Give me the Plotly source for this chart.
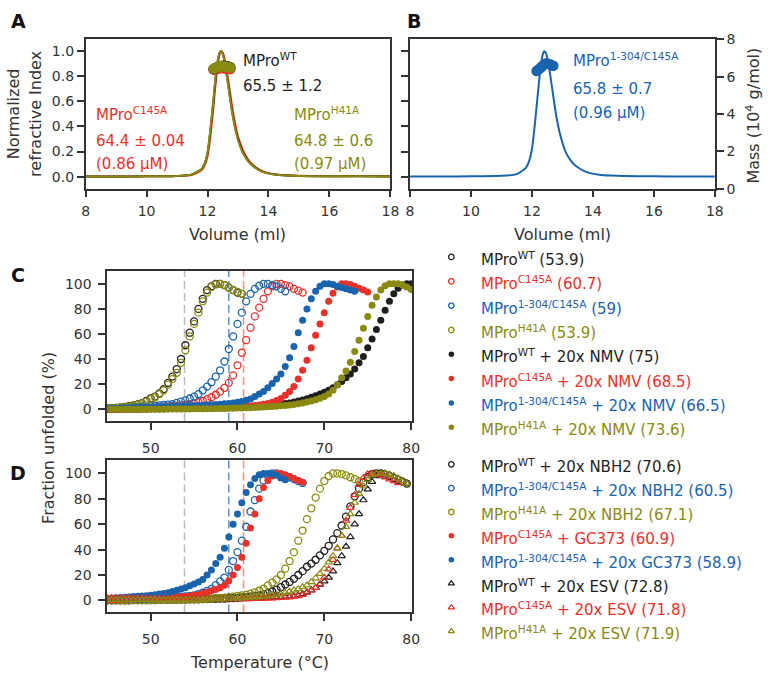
import plotly.graph_objects as go

W, H = 773, 680
FONT = "DejaVu Sans, Liberation Sans, Arial, sans-serif"
BLACK = "#1e1e1e"
RED = "#e8312a"
BLUE = "#1a63ad"
OLIVE = "#8a8a12"
AX = "#333333"

# ---------------- Panel A / B : SEC-MALS ----------------
volume = [8, 9, 10, 11, 11.5, 11.8, 11.9, 12.0, 12.1, 12.2, 12.25, 12.3, 12.35, 12.4, 12.45,
          12.5, 12.55, 12.6, 12.7, 12.8, 12.9, 13.0, 13.1, 13.2, 13.35, 13.5, 13.7, 13.9,
          14.2, 14.6, 15, 16, 17, 18]
ri_wt = [0.0, 0.0, 0.002, 0.005, 0.018, 0.06, 0.1, 0.19, 0.38, 0.62, 0.75, 0.86, 0.94, 0.99, 1.0,
         0.98, 0.93, 0.86, 0.70, 0.53, 0.40, 0.30, 0.23, 0.175, 0.12, 0.085, 0.052, 0.032,
         0.017, 0.009, 0.005, 0.002, 0.002, 0.0]
ri_c145a = [0.0, 0.0, 0.002, 0.004, 0.015, 0.05, 0.085, 0.16, 0.33, 0.57, 0.70, 0.82, 0.92, 0.98, 1.0,
            0.99, 0.95, 0.89, 0.74, 0.57, 0.43, 0.32, 0.25, 0.19, 0.13, 0.09, 0.056, 0.034,
            0.018, 0.010, 0.006, 0.003, 0.004, 0.002]
ri_h41a = [0.0, 0.0, 0.002, 0.005, 0.018, 0.06, 0.1, 0.19, 0.39, 0.63, 0.76, 0.87, 0.95, 0.99, 1.0,
           0.98, 0.93, 0.86, 0.69, 0.52, 0.39, 0.29, 0.22, 0.17, 0.115, 0.082, 0.05, 0.03,
           0.016, 0.008, 0.005, 0.002, 0.003, 0.001]
ri_1304 = [0.0, 0.0, 0.002, 0.006, 0.02, 0.07, 0.12, 0.22, 0.43, 0.68, 0.80, 0.90, 0.97, 1.0, 0.99,
           0.95, 0.89, 0.81, 0.64, 0.48, 0.36, 0.27, 0.20, 0.155, 0.105, 0.075, 0.046, 0.028,
           0.015, 0.008, 0.004, 0.002, 0.001, 0.0]

mass_vol = [12.2, 12.25, 12.3, 12.35, 12.4, 12.45, 12.5, 12.55, 12.6, 12.65, 12.7, 12.75]
mass_wt = [6.40, 6.45, 6.50, 6.52, 6.55, 6.57, 6.58, 6.58, 6.56, 6.55, 6.53, 6.50]
mass_c145a = [6.38, 6.40, 6.42, 6.44, 6.45, 6.46, 6.46, 6.45, 6.44, 6.43, 6.42, 6.40]
mass_h41a = [6.42, 6.46, 6.50, 6.53, 6.55, 6.56, 6.56, 6.55, 6.53, 6.52, 6.50, 6.48]
mass_vol_b = [12.15, 12.2, 12.25, 12.3, 12.35, 12.4, 12.45, 12.5, 12.55, 12.6, 12.65, 12.7]
mass_1304 = [6.30, 6.36, 6.42, 6.50, 6.58, 6.65, 6.70, 6.70, 6.68, 6.65, 6.60, 6.58]

# ---------------- Panel C / D : thermal unfolding ----------------
temps = [45.0, 45.5, 46.0, 46.5, 47.0, 47.5, 48.0, 48.5, 49.0, 49.5,
         50.0, 50.5, 51.0, 51.5, 52.0, 52.5, 53.0, 53.5, 54.0, 54.5,
         55.0, 55.5, 56.0, 56.5, 57.0, 57.5, 58.0, 58.5, 59.0, 59.5,
         60.0, 60.5, 61.0, 61.5, 62.0, 62.5, 63.0, 63.5, 64.0, 64.5,
         65.0, 65.5, 66.0, 66.5, 67.0, 67.5, 68.0, 68.5, 69.0, 69.5,
         70.0, 70.5, 71.0, 71.5, 72.0, 72.5, 73.0, 73.5, 74.0, 74.5,
         75.0, 75.5, 76.0, 76.5, 77.0, 77.5, 78.0, 78.5, 79.0, 79.5, 80.0]

c_wt = [0.5, 0.8, 1, 1.3, 1.8, 2.3, 3, 3.8, 4.8, 6.5,
        8.5, 10, 12.5, 16, 21, 26, 32, 40, 51, 61,
        70, 80, 88, 95, 98, 100, 100, 99, 97, 95,
        93, 92]
c_c145a = [0, 0, 0.2, 0.3, 0.4, 0.5, 0.6, 0.7, 0.8, 0.9,
           1, 1.2, 1.5, 1.8, 2, 2.3, 2.6, 3, 3.5, 4,
           4.5, 5.5, 6.5, 8, 9.5, 11.5, 14, 17, 21, 27,
           35, 45, 55, 65, 74, 81, 88, 94, 98, 100,
           100, 99, 98, 96, 94.5, 93]
c_1304 = [0.5, 0.5, 0.6, 0.8, 1, 1.2, 1.5, 1.7, 2, 2.2,
          2.5, 2.8, 3, 3.3, 3.6, 4, 5, 6, 7, 8.5,
          10, 12, 15, 18, 21.5, 26, 31, 38, 48, 58,
          68, 77, 86, 92, 96, 98.5, 100, 100, 99, 98,
          96, 94]
c_h41a = [0.5, 0.7, 0.9, 1.2, 1.6, 2, 2.7, 3.5, 4.5, 6,
          8, 9.5, 12, 15, 19.5, 24, 29, 37, 47, 58,
          68, 77, 86, 93, 97.5, 99.5, 100, 99, 97, 95,
          93.5, 92]
c_wt_nmv = [0, 0, 0, 0, 0, 0, 0, 0, 0.2, 0.2,
            0.3, 0.3, 0.3, 0.4, 0.4, 0.5, 0.5, 0.5, 0.6, 0.6,
            0.7, 0.7, 0.8, 0.8, 0.9, 1, 1, 1.1, 1.2, 1.3,
            1.4, 1.5, 1.7, 1.9, 2.1, 2.3, 2.6, 2.9, 3.2, 3.6,
            4, 4.5, 5, 5.7, 6.5, 7.3, 8.3, 9.4, 10.6, 12,
            13.5, 15, 17, 19.5, 22, 25, 28, 32, 37, 42,
            49, 56, 63.5, 71, 79, 86, 92, 96.5, 99, 100, 100]
c_c145a_nmv = [0, 0, 0, 0, 0, 0, 0, 0, 0, 0,
               0.2, 0.2, 0.2, 0.3, 0.3, 0.3, 0.4, 0.4, 0.5, 0.5,
               0.5, 0.6, 0.7, 0.8, 0.9, 1, 1.1, 1.2, 1.4, 1.6,
               1.8, 2, 2.3, 2.6, 3, 3.4, 4, 4.6, 5.5, 6.8,
               8.5, 11, 14, 18, 24, 31, 39, 49, 59, 68,
               77, 86, 92.5, 97.5, 100, 100, 99.5, 98, 96.5, 95,
               93.5]
c_1304_nmv = [0.5, 0.6, 0.7, 0.8, 0.9, 1, 1.1, 1.2, 1.3, 1.4,
              1.5, 1.6, 1.7, 1.8, 2, 2.1, 2.2, 2.4, 2.5, 2.7,
              2.8, 3, 3.1, 3.3, 3.5, 3.7, 4, 4.3, 4.6, 5,
              5.5, 6, 7, 8, 10, 12, 14, 17, 20.5, 24,
              28, 34, 41, 50, 61, 71, 80, 88, 94, 98,
              100, 100, 99.5, 98, 97, 96, 95, 94]
c_h41a_nmv = [0, 0, 0, 0, 0, 0, 0, 0, 0, 0,
              0, 0, 0, 0, 0.1, 0.1, 0.1, 0.2, 0.2, 0.2,
              0.3, 0.3, 0.3, 0.4, 0.4, 0.5, 0.5, 0.6, 0.7, 0.8,
              0.9, 1, 1.1, 1.2, 1.3, 1.5, 1.7, 1.9, 2.1, 2.4,
              2.7, 3, 3.4, 3.8, 4.3, 4.9, 5.6, 6.5, 7.5, 8.7,
              10, 12, 15, 19.5, 25, 30.5, 37.5, 46, 55, 64.5,
              74, 83, 89.5, 95, 98.5, 100, 100, 100, 99, 97.5, 95.5]

d_wt_nbh2 = [0, 0, 0, 0.1, 0.1, 0.1, 0.2, 0.2, 0.2, 0.3,
             0.3, 0.3, 0.4, 0.4, 0.5, 0.5, 0.6, 0.6, 0.7, 0.8,
             0.8, 0.9, 1, 1.1, 1.2, 1.3, 1.4, 1.5, 1.7, 1.8,
             2, 2.3, 2.6, 3, 3.5, 4, 4.8, 5.7, 7, 8.5,
             10.5, 12.5, 14.5, 17, 20, 23, 26.5, 29, 32, 35.5,
             39, 43, 48, 53, 59, 66, 74, 82, 88, 93,
             97, 99.5, 100, 100, 99, 98, 96.5, 95, 93.5, 92]
d_1304_nbh2 = [0.5, 0.5, 0.6, 0.7, 0.8, 0.9, 1, 1.1, 1.2, 1.3,
               1.4, 1.5, 1.7, 1.9, 2.1, 2.3, 2.6, 2.9, 3.2, 3.6,
               4, 5, 6, 7.5, 9, 12, 15, 18, 24, 31,
               38, 47, 58, 70, 79, 88, 94.5, 98.5, 100, 100,
               99, 98, 97, 95.5, 94, 92.5]
d_h41a_nbh2 = [0, 0, 0, 0.1, 0.1, 0.1, 0.2, 0.2, 0.2, 0.3,
               0.3, 0.3, 0.4, 0.4, 0.5, 0.5, 0.6, 0.6, 0.7, 0.8,
               0.9, 1, 1.1, 1.3, 1.5, 1.7, 1.9, 2.2, 2.6, 3,
               3.5, 4, 4.5, 5.3, 6.3, 7.6, 9.3, 11.8, 14, 16.5,
               20, 25, 31, 38, 47, 55, 64, 72.5, 81, 88,
               94, 98, 100, 100, 99.5, 98.5, 97, 95.5, 94]
d_c145a_gc373 = [0.5, 0.6, 0.7, 0.8, 0.9, 1, 1.1, 1.2, 1.3, 1.4,
                 1.5, 1.6, 1.8, 2, 2.2, 2.4, 2.6, 2.8, 3, 3.4,
                 4, 4.5, 5.5, 6.5, 7.5, 8.5, 10, 12, 15.5, 20,
                 26, 34, 45, 57, 68, 80, 89, 94.5, 98, 100,
                 100, 99, 97.5, 96, 94.5, 93]
d_1304_gc373 = [1.5, 1.7, 2, 2.2, 2.5, 2.7, 3, 3.2, 3.5, 3.7,
                4, 4.5, 5, 5.5, 6, 7, 8, 9, 10, 11.5,
                13, 14.5, 16.5, 20, 24, 29, 34, 41, 50, 60,
                68, 77, 85, 91, 96, 99, 100, 100, 99.5, 98.5,
                96.5, 95]
d_wt_esv = [1, 1, 1, 1, 1, 1, 1, 1, 1, 1,
            1, 1, 1, 1, 1, 1, 1, 1, 1, 1,
            1, 1, 1, 1, 1, 1, 1, 1, 1.1, 1.2,
            1.3, 1.4, 1.5, 1.6, 1.7, 1.8, 1.9, 2, 2.2, 2.4,
            2.6, 2.8, 3.1, 3.4, 4, 5, 6.5, 8, 10, 12.5,
            15, 18, 23, 29.5, 35, 42.5, 50, 60, 68, 79,
            87.5, 93.5, 98, 100, 100, 99, 97.5, 96, 94, 92]
d_c145a_esv = [2, 2, 1.9, 1.9, 1.8, 1.8, 1.7, 1.7, 1.6, 1.6,
               1.5, 1.5, 1.4, 1.4, 1.3, 1.3, 1.2, 1.2, 1.1, 1.1,
               1, 1, 1, 1, 1, 1, 1, 1, 1, 1,
               1, 1, 1.1, 1.1, 1.2, 1.3, 1.4, 1.5, 1.6, 1.8,
               2, 2.2, 2.5, 3, 3.5, 4.5, 6, 8, 10, 13,
               18, 24.5, 32, 41, 51, 63, 73, 83, 91, 96.5,
               99.5, 100, 99.5, 98.5, 97, 95.5, 94, 92.5]
d_h41a_esv = [0.5, 0.5, 0.5, 0.5, 0.5, 0.5, 0.5, 0.5, 0.5, 0.5,
              0.5, 0.5, 0.5, 0.5, 0.5, 0.5, 0.5, 0.5, 0.5, 0.5,
              0.5, 0.6, 0.7, 0.8, 0.9, 1, 1.1, 1.2, 1.3, 1.4,
              1.5, 1.7, 2, 2.2, 2.5, 2.7, 3, 3.3, 4, 4.5,
              5, 6, 7, 8, 9, 10.5, 12, 14.5, 17.5, 21,
              25, 30, 35, 41, 51, 58, 68, 77, 84, 90,
              95, 98.5, 100, 100, 100, 99, 98, 96, 94, 92]

ref_tms = [53.9, 59.0, 60.7]
ref_colors = ["#bdbdbd", "#5f8fd8", "#f3907f"]

# label, color, style, values
series_c = [
    ("MPro<sup>WT</sup> (53.9)", BLACK, "open", c_wt),
    ("MPro<sup>C145A</sup> (60.7)", RED, "open", c_c145a),
    ("MPro<sup>1-304/C145A</sup> (59)", BLUE, "open", c_1304),
    ("MPro<sup>H41A</sup> (53.9)", OLIVE, "open", c_h41a),
    ("MPro<sup>WT</sup> + 20x NMV (75)", BLACK, "filled", c_wt_nmv),
    ("MPro<sup>C145A</sup> + 20x NMV (68.5)", RED, "filled", c_c145a_nmv),
    ("MPro<sup>1-304/C145A</sup> + 20x NMV (66.5)", BLUE, "filled", c_1304_nmv),
    ("MPro<sup>H41A</sup> + 20x NMV (73.6)", OLIVE, "filled", c_h41a_nmv),
]
series_d = [
    ("MPro<sup>WT</sup> + 20x NBH2 (70.6)", BLACK, "open", d_wt_nbh2),
    ("MPro<sup>1-304/C145A</sup> + 20x NBH2 (60.5)", BLUE, "open", d_1304_nbh2),
    ("MPro<sup>H41A</sup> + 20x NBH2 (67.1)", OLIVE, "open", d_h41a_nbh2),
    ("MPro<sup>C145A</sup> + GC373 (60.9)", RED, "filled", d_c145a_gc373),
    ("MPro<sup>1-304/C145A</sup> + 20x GC373 (58.9)", BLUE, "filled", d_1304_gc373),
    ("MPro<sup>WT</sup> + 20x ESV (72.8)", BLACK, "tri", d_wt_esv),
    ("MPro<sup>C145A</sup> + 20x ESV (71.8)", RED, "tri", d_c145a_esv),
    ("MPro<sup>H41A</sup> + 20x ESV (71.9)", OLIVE, "tri", d_h41a_esv),
]


def px(x):
    return x / W


def py(y):
    return 1 - y / H


def marker_style(style, color, small=False):
    if style == "open":
        return dict(symbol="circle-open", size=5.5 if small else 7, color=color, line=dict(width=1.3, color=color))
    if style == "filled":
        return dict(symbol="circle", size=5.5 if small else 7, color=color, line=dict(width=0))
    return dict(symbol="triangle-up-open", size=5.5 if small else 6.5, color=color, line=dict(width=1.2, color=color))


fig = go.Figure()

# Panel A
for vals, col in [(ri_c145a, RED), (ri_wt, BLACK), (ri_h41a, OLIVE)]:
    fig.add_trace(go.Scatter(x=volume, y=vals, mode="lines", xaxis="x", yaxis="y",
                             line=dict(color=col, width=2, shape="spline", smoothing=0.6)))
for vals, col in [(mass_c145a, RED), (mass_wt, BLACK), (mass_h41a, OLIVE)]:
    fig.add_trace(go.Scatter(x=mass_vol, y=vals, mode="markers", xaxis="x", yaxis="y2",
                             marker=dict(symbol="circle-open", size=8, color=col, line=dict(width=2.5, color=col))))
# Panel B
fig.add_trace(go.Scatter(x=volume, y=ri_1304, mode="lines", xaxis="x2", yaxis="y3",
                         line=dict(color=BLUE, width=2, shape="spline", smoothing=0.6)))
fig.add_trace(go.Scatter(x=mass_vol_b, y=mass_1304, mode="markers", xaxis="x2", yaxis="y4",
                         marker=dict(symbol="circle-open", size=8, color=BLUE, line=dict(width=2.5, color=BLUE))))

# Panel C, D
for series, xa, ya in [(series_c, "x3", "y5"), (series_d, "x4", "y6")]:
    for label, col, style, vals in series:
        fig.add_trace(go.Scatter(x=temps[:len(vals)], y=vals, mode="markers", xaxis=xa, yaxis=ya,
                                 marker=marker_style(style, col)))

# legends (marker glyphs on hidden axes, row index as y)
annotations = []
for series, xa, ya in [(series_c, "x5", "y7"), (series_d, "x6", "y8")]:
    for i, (label, col, style, vals) in enumerate(series):
        fig.add_trace(go.Scatter(x=[0], y=[i], mode="markers", xaxis=xa, yaxis=ya,
                                 marker=marker_style(style, col, small=True)))
        annotations.append(dict(x=px(483), y=i, xref="paper", yref=ya, text=label, showarrow=False,
                                xanchor="left", yanchor="middle", yshift=-2,
                                font=dict(family=FONT, size=15, color=col)))


def axis(domain, rng, **kw):
    d = dict(domain=domain, range=rng, showgrid=False, zeroline=False, showline=True,
             linecolor=AX, linewidth=1.5, mirror=True, ticks="outside", ticklen=7,
             tickwidth=1.5, tickcolor=AX, tickfont=dict(family=FONT, size=14, color=AX))
    d.update(kw)
    return d


xA = [px(83), px(393)]
xB = [px(413), px(723)]
yAB = [py(185), py(32)]
xCD = [px(105), px(415)]
yC = [py(423), py(269)]
yD = [py(619), py(463)]
ri_range = [-0.096, 1.096]
t_range = [45, 80.1]
f_range = [-9.5, 110.5]

fig.update_layout(
    width=W, height=H, margin=dict(l=0, r=0, t=0, b=0),
    paper_bgcolor="white", plot_bgcolor="white", showlegend=False,
    font=dict(family=FONT, color=AX),
    xaxis=axis(xA, [8, 18], anchor="y", tickvals=[8, 10, 12, 14, 16, 18], ticklabelstandoff=2),
    yaxis=axis(yAB, ri_range, anchor="x", tickvals=[0, 0.2, 0.4, 0.6, 0.8, 1.0], tickformat=".1f"),
    yaxis2=dict(overlaying="y", anchor="x", range=[0, 8], visible=False),
    xaxis2=axis(xB, [8, 18], anchor="y3", tickvals=[8, 10, 12, 14, 16, 18], ticklabelstandoff=2),
    yaxis3=axis(yAB, ri_range, anchor="x2", tickvals=[0, 0.2, 0.4, 0.6, 0.8, 1.0], showticklabels=False),
    yaxis4=axis(yAB, [0, 8], anchor="x2", overlaying="y3", side="right", tickvals=[0, 2, 4, 6, 8],
                mirror=False),
    xaxis3=axis(xCD, t_range, anchor="y5", tickvals=[50, 60, 70, 80], ticklabelstandoff=6),
    yaxis5=axis(yC, f_range, anchor="x3", tickvals=[0, 20, 40, 60, 80, 100], ticklabelstandoff=4),
    xaxis4=axis(xCD, t_range, anchor="y6", tickvals=[50, 60, 70, 80], ticklabelstandoff=6),
    yaxis6=axis(yD, f_range, anchor="x4", tickvals=[0, 20, 40, 60, 80, 100], ticklabelstandoff=4),
    xaxis5=dict(domain=[px(445), px(465)], range=[-1, 1], anchor="y7", visible=False),
    yaxis7=dict(domain=[py(441.8), py(242.5)], range=[7.5, -0.5], anchor="x5", visible=False),
    xaxis6=dict(domain=[px(445), px(465)], range=[-1, 1], anchor="y8", visible=False),
    yaxis8=dict(domain=[py(650.5), py(455.1)], range=[7.5, -0.5], anchor="x6", visible=False),
)

shapes = []
for tm, col in zip(ref_tms, ref_colors):
    for xa, ya in [("x3", "y5"), ("x4", "y6")]:
        shapes.append(dict(type="line", xref=xa, yref=ya + " domain", x0=tm, x1=tm, y0=0, y1=1,
                           line=dict(color=col, width=1.5, dash="8px,4px"), layer="below"))
fig.update_layout(shapes=shapes)


def note(x, y, text, color=AX, size=15, **kw):
    d = dict(x=px(x), y=py(y), xref="paper", yref="paper", text=text, showarrow=False,
             xanchor="left", yanchor="middle", font=dict(family=FONT, size=size, color=color))
    d.update(kw)
    annotations.append(d)


# panel letters
for lx, ly, t in [(15, 13, "A"), (417, 13, "B"), (14, 273, "C"), (14, 476, "D")]:
    note(lx, ly, "<b>%s</b>" % t, color="#111111", size=19, xanchor="center")

# Panel A labels
note(241, 53, "MPro<sup>WT</sup>", BLACK)
note(241, 80, "65.5 ± 1.2", BLACK)
note(92, 109, "MPro<sup>C145A</sup>", RED)
note(92, 136, "64.4 ± 0.04", RED)
note(92, 160, "(0.86 μM)", RED)
note(293, 109, "MPro<sup>H41A</sup>", OLIVE)
note(293, 136, "64.8 ± 0.6", OLIVE)
note(293, 160, "(0.97 μM)", OLIVE)
# Panel B labels
note(577, 53, "MPro<sup>1-304/C145A</sup>", BLUE)
note(577, 83, "65.8 ± 0.7", BLUE)
note(577, 108, "(0.96 μM)", BLUE)

# axis titles
note(10, 108, "Normalized", size=16, xanchor="center", textangle=-90)
note(32, 108, "refractive Index", size=16, xanchor="center", textangle=-90)
note(238, 232, "Volume (ml)", size=16, xanchor="center")
note(568, 232, "Volume (ml)", size=16, xanchor="center")
note(762, 110, "Mass (10<sup>4</sup> g/mol)", size=16, xanchor="center", textangle=-90)
note(45, 440, "Fraction unfolded (%)", size=16, xanchor="center", textangle=-90)
note(260, 670, "Temperature (°C)", size=16, xanchor="center")

fig.update_layout(annotations=annotations)

fig.write_html("out.html", config={"displayModeBar": False})
with open("out.html", "r", encoding="utf-8") as f:
    html = f.read()
html = html.replace("<head>", "<head><style>body{margin:0;overflow:hidden}</style>", 1)
with open("out.html", "w", encoding="utf-8") as f:
    f.write(html)
